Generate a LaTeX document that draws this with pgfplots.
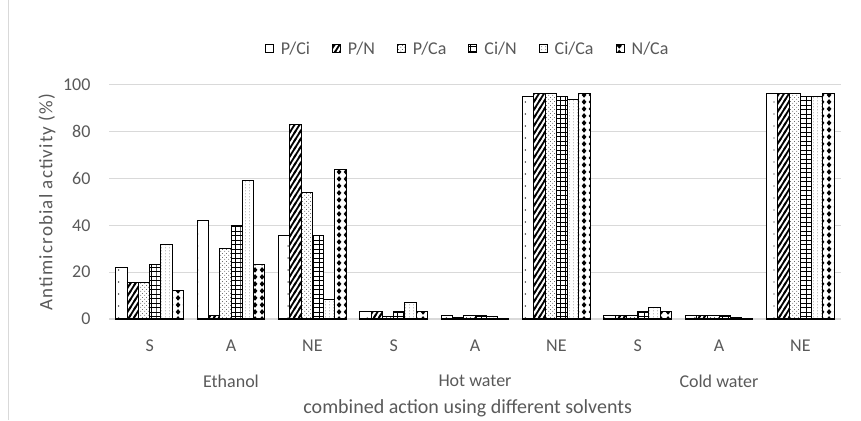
\documentclass[border=0pt]{standalone}
\usepackage{fontspec}
\setmainfont{Carlito}
\newfontfamily\spaced[LetterSpace=6]{Carlito}
\usepackage{pgfplots}
\pgfplotsset{compat=1.18}
\usetikzlibrary{patterns}

\definecolor{txt}{HTML}{595959}
\definecolor{grd}{HTML}{D9D9D9}

% Excel-like fill patterns
\pgfdeclarepatternformonly{sparsedots}{\pgfqpoint{-1pt}{-1pt}}{\pgfqpoint{12pt}{13pt}}{\pgfqpoint{11.3pt}{12pt}}{%
  \pgfpathcircle{\pgfqpoint{5.6pt}{6pt}}{0.7pt}\pgfusepath{fill}}
\pgfdeclarepatternformonly{thicklines}{\pgfqpoint{-2pt}{-2pt}}{\pgfqpoint{7pt}{10pt}}{\pgfqpoint{5pt}{8pt}}{%
  \pgfsetlinewidth{1.8pt}\pgfpathmoveto{\pgfqpoint{-1pt}{-1.6pt}}\pgfpathlineto{\pgfqpoint{6pt}{9.6pt}}\pgfusepath{stroke}}
\pgfdeclarepatternformonly{confetti}{\pgfqpoint{0pt}{0pt}}{\pgfqpoint{4pt}{4pt}}{\pgfqpoint{4pt}{4pt}}{%
  \pgfpathcircle{\pgfqpoint{1pt}{1pt}}{0.45pt}\pgfpathcircle{\pgfqpoint{3pt}{3pt}}{0.45pt}\pgfusepath{fill}}
\pgfdeclarepatternformonly{boxes}{\pgfqpoint{-0.5pt}{-0.5pt}}{\pgfqpoint{6pt}{5pt}}{\pgfqpoint{5.6pt}{4.5pt}}{%
  \pgfsetlinewidth{0.9pt}\pgfpathmoveto{\pgfqpoint{0pt}{0pt}}\pgfpathlineto{\pgfqpoint{5.6pt}{0pt}}%
  \pgfpathmoveto{\pgfqpoint{0pt}{0pt}}\pgfpathlineto{\pgfqpoint{0pt}{4.5pt}}\pgfusepath{stroke}}
\pgfdeclarepatternformonly{finedots}{\pgfqpoint{0pt}{0pt}}{\pgfqpoint{4pt}{3pt}}{\pgfqpoint{4pt}{3pt}}{%
  \pgfpathcircle{\pgfqpoint{2pt}{1.5pt}}{0.4pt}\pgfusepath{fill}}
\pgfdeclarepatternformonly{diamonds}{\pgfqpoint{0pt}{0pt}}{\pgfqpoint{7pt}{7pt}}{\pgfqpoint{7pt}{7pt}}{%
  \pgfpathmoveto{\pgfqpoint{3.5pt}{0.3pt}}\pgfpathlineto{\pgfqpoint{6.2pt}{3.5pt}}%
  \pgfpathlineto{\pgfqpoint{3.5pt}{6.7pt}}\pgfpathlineto{\pgfqpoint{0.8pt}{3.5pt}}\pgfpathclose\pgfusepath{fill}}

\begin{document}
\begin{tikzpicture}
\path[use as bounding box] (0,0) rectangle (861pt,420pt);
\draw[grd] (8pt,0) -- (8pt,420pt);
\node[rotate=90, anchor=center, text=txt, font=\spaced\fontsize{19}{21}\selectfont]
  at (47pt,218pt) {Antimicrobial activity (\%)};
\begin{axis}[
  at={(109pt,101pt)}, anchor=south west,
  scale only axis, width=732pt, height=234pt,
  clip=false,
  ybar=0pt, bar width=11.3pt,
  xmin=-0.5, xmax=8.5, ymin=0, ymax=100,
  xtick={0,...,8}, xticklabels={S,A,NE,S,A,NE,S,A,NE},
  ytick={0,20,...,100},
  axis line style={draw=none},
  major tick length=0pt,
  ymajorgrids, grid style={grd, line width=1pt},
  /pgf/number format/assume math mode=true,
  tick label style={text=txt, font=\fontsize{18}{20}\selectfont},
  yticklabel style={xshift=-15pt},
  xticklabel style={yshift=-17pt},
  xlabel={combined action using different solvents},
  xlabel style={at={(axis description cs:0.49,-0.38)}, anchor=center, text=txt, font=\fontsize{20}{22}\selectfont},
  legend style={at={(axis description cs:0.49,1.154)}, anchor=center, draw=none,
    font=\fontsize{18}{20}\selectfont, text=txt,
    /tikz/every even column/.append style={column sep=20pt}},
  legend columns=-1,
  legend image code/.code={\draw[#1] (0pt,-4pt) rectangle (8pt,4pt); \path (13pt,0pt);},
  every axis plot/.append style={draw=black, line width=1pt, fill=white},
]
\addplot[postaction={pattern=sparsedots}] coordinates {(0,22) (1,42) (2,35.5) (3,3) (4,1.5) (5,95) (6,1.5) (7,1.5) (8,96.5)};
\addplot[postaction={pattern=thicklines}] coordinates {(0,15.5) (1,1.5) (2,83) (3,3) (4,0.5) (5,96.5) (6,1.5) (7,1.5) (8,96.5)};
\addplot[postaction={pattern=confetti}] coordinates {(0,15.5) (1,30) (2,54) (3,1) (4,1.5) (5,96.5) (6,1.5) (7,1.5) (8,96.5)};
\addplot[postaction={pattern=boxes}] coordinates {(0,23.5) (1,40) (2,35.5) (3,3) (4,1.5) (5,95) (6,3) (7,1.5) (8,95)};
\addplot[postaction={pattern=finedots}] coordinates {(0,32) (1,59) (2,8.5) (3,7) (4,1) (5,94) (6,5) (7,0.5) (8,95)};
\addplot[postaction={pattern=diamonds}] coordinates {(0,12) (1,23.5) (2,64) (3,3) (4,0.3) (5,96.5) (6,3) (7,0.3) (8,96.5)};
\legend{P/Ci,P/N,P/Ca,Ci/N,Ci/Ca,N/Ca}
\node[text=txt, font=\fontsize{18}{20}\selectfont] at (axis cs:1,0) [yshift=-62pt] {Ethanol};
\node[text=txt, font=\fontsize{18}{20}\selectfont] at (axis cs:4,0) [yshift=-62pt] {Hot water};
\node[text=txt, font=\fontsize{18}{20}\selectfont] at (axis cs:7,0) [yshift=-62pt] {Cold water};
\end{axis}
\end{tikzpicture}
\end{document}
